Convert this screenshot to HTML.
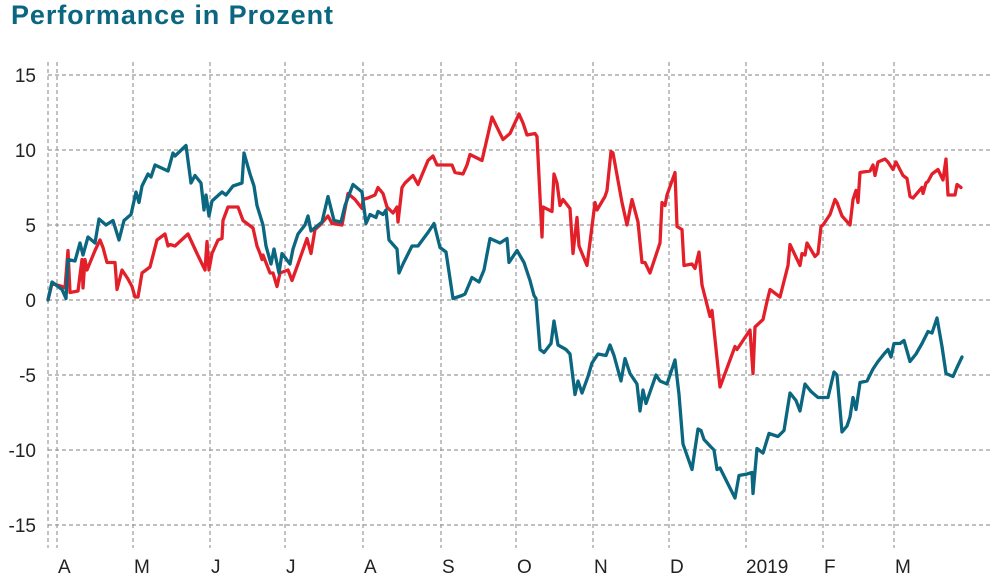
<!DOCTYPE html>
<html><head><meta charset="utf-8">
<style>
html,body{margin:0;padding:0;background:#fff;}
body{width:1000px;height:580px;overflow:hidden;font-family:"Liberation Sans",sans-serif;}
#title{position:absolute;left:11px;top:0px;font-size:27px;font-weight:bold;color:#0b6680;letter-spacing:0.9px;}
svg{position:absolute;left:0;top:0;}
</style></head>
<body>
<div id="title">Performance in Prozent</div>
<svg id="chart" width="1000" height="580"></svg>
<script>
const yTicks=[15,10,5,0,-5,-10,-15];
const monthLabels=["A","M","J","J","A","S","O","N","D","2019","F","M"];
const monthStartDays=[1.8,17,32.4,47.4,63,78.6,93.6,109,124.2,139.6,155,169.2];
const tealDays=[0,0.8,2,2.8,3.6,4,5.4,6.4,7,8,9.4,10.2,11.6,13,14.2,15.2,16.6,17.6,18.2,18.8,20,20.6,21.4,24,25,25.4,27.6,28.6,29.4,30.6,31.2,31.6,32.2,32.8,34.8,35.6,37,38.8,39.2,40.4,41.2,41.8,43,43.6,44.6,45.2,46.2,46.8,48.4,49,50,51.4,52,52.6,54.8,56,57.2,58.6,59.4,61,62.8,63.6,64.4,65.6,66,67,67.6,68.2,69.8,70.2,71,72.8,74,76,77.2,78.4,79.6,81,82.8,83.4,84.8,86.2,87.2,88.4,90.4,91.8,92.2,93.8,95.2,96.4,97.2,97.6,98.4,99.2,100.6,101.2,102,103.6,104.4,105.4,106,106.8,108,108.8,110,111.6,112.4,113.2,114.6,115.4,116.4,117.8,118.4,119,119.6,121.6,122.4,123.8,124.4,125.4,126.2,127,128.8,130,130.6,131.2,132.6,133.2,133.8,134.4,137.4,138.2,139.8,140.8,141,141.8,143,144.2,146,147.2,148.4,149.6,150.4,151.4,152.6,154,156,157.2,157.8,158.8,159.8,160.4,161,161.6,162.4,163.8,165,166,167.2,168,168.6,169.2,170.4,171.2,172.4,173.6,174.8,176,176.8,177.8,178.8,179.6,181,181.8,182.8];
const tealValues=[0,1.2,0.9,0.7,0.1,2.7,2.6,3.8,3.0,4.2,3.8,5.4,5.0,5.3,4.0,5.3,5.7,7.2,6.5,7.6,8.4,8.2,9.0,8.6,9.8,9.6,10.3,7.8,8.3,7.8,6.0,7.0,5.6,6.6,7.2,7.0,7.6,7.8,9.8,8.4,7.6,6.3,5.0,3.6,2.4,3.4,1.8,3.1,2.4,3.4,4.4,5.0,5.6,4.6,5.2,6.9,5.3,5.2,6.3,7.7,7.2,5.1,5.7,5.5,5.9,5.7,6.0,4.0,3.4,1.8,2.4,3.6,3.6,4.5,5.1,3.5,3.2,0.1,0.3,0.4,1.5,1.2,2.0,4.1,3.8,4.1,2.5,3.3,2.5,1.3,0.3,0.1,-3.3,-3.5,-2.9,-1.4,-3.0,-3.3,-3.6,-6.3,-5.4,-6.2,-5.1,-4.2,-3.6,-3.7,-3.0,-3.7,-5.4,-3.9,-4.9,-5.6,-7.4,-6.0,-6.9,-5.0,-5.4,-5.6,-5.0,-4.0,-6.3,-9.6,-11.3,-8.6,-8.7,-9.3,-9.8,-10.0,-11.3,-11.2,-13.2,-11.7,-11.6,-11.5,-12.9,-9.9,-10.2,-8.9,-9.1,-8.7,-6.2,-6.7,-7.4,-5.6,-6.1,-6.5,-6.5,-4.8,-5.0,-8.8,-8.4,-7.8,-6.5,-7.3,-5.5,-5.4,-4.6,-4.1,-3.6,-3.3,-3.8,-2.9,-2.9,-2.7,-4.1,-3.6,-2.9,-2.1,-2.2,-1.2,-3.1,-4.9,-5.1,-4.5,-3.8];
const redDays=[0,0.8,2.8,3.4,4,4.4,6,6.8,7,7.4,7.8,9.4,10.4,11,11.8,13.4,13.8,14.8,16,16.8,17.4,18,18.8,20.4,21.8,23.4,24,24.4,25.4,28,29.8,31.4,31.8,32.2,32.8,34,34.8,35,36,38,39,41,41.8,42.4,42.8,43,44.4,45,45.8,46.4,48,48.8,50,51.8,52.6,53.4,54.4,56,56.8,58.8,60,61.4,62.8,63,64,65.4,66,67,67.8,69,69.8,70,70.8,71.4,73,74,76,77,77.8,80.8,81.4,83,83.8,84.4,86.8,88.8,91,92.4,94.2,95,95.8,97.4,97.8,98.8,99,100.8,101.2,101.8,102.4,103,104.4,105,105.8,106.2,107.8,108.8,109.4,109.8,111.4,111.8,112.6,113,114.8,115.8,116.8,118,118.8,119.4,120.4,122.4,122.8,123.4,123.8,125.4,125.8,126.8,127.2,128.8,129.4,130.2,130.8,132.4,132.8,134.4,137.4,137.8,140.4,141,141.4,143,143.8,144.4,146.4,148,148.4,150.4,150.8,151.4,151.8,153.4,154,154.6,155,156.4,157.4,157.8,158.8,160.4,161,161.6,162,162.4,164.4,165,165.4,166,167.4,168,169,169.6,171,171.8,172.4,173,174.8,175,175.6,176,176.8,178,179,179.6,180,181.4,181.8,182.6];
const redValues=[0,1.1,0.9,0.8,3.3,0.5,0.6,2.7,0.8,2.7,2.0,3.3,4.0,3.5,2.5,2.5,0.7,2.0,1.4,0.9,0.2,0.2,1.8,2.2,4.0,4.4,3.6,3.7,3.6,4.4,3.1,2.0,3.9,2.0,3.1,4.0,4.1,5.3,6.2,6.2,5.3,4.8,3.6,3.1,2.7,3.0,1.8,1.8,0.9,1.8,2.0,1.3,2.4,4.1,3.1,4.7,5.0,5.6,5.1,5.0,7.1,6.7,6.1,6.7,6.8,7.0,7.5,7.1,6.2,5.8,6.2,5.2,7.5,7.8,8.3,7.7,9.3,9.6,9.0,9.0,8.5,8.4,9.0,9.7,9.3,12.2,10.7,11.1,12.4,11.8,11.0,11.1,10.9,4.2,6.2,5.9,8.4,7.8,6.3,6.7,6.1,3.1,5.5,3.6,2.3,4.9,6.5,6.0,6.9,7.3,9.9,9.8,6.5,5.0,6.7,5.2,2.5,2.5,1.8,3.8,6.5,6.3,7.0,8.5,4.9,4.7,2.3,2.4,2.1,3.2,1.0,-1.1,-0.7,-5.8,-3.1,-3.3,-2.0,-4.9,-1.8,-1.3,-0.1,0.7,0.2,2.3,3.7,2.3,3.1,3.0,3.8,2.9,3.1,4.9,5.0,5.7,6.7,6.5,5.6,5.0,6.7,7.3,6.5,8.5,8.6,9.0,8.3,9.2,9.4,9.2,8.7,9.2,8.3,8.1,6.9,6.8,7.5,7.1,7.8,7.9,8.4,8.7,8.0,9.4,7.0,7.0,7.7,7.5];

const NS='http://www.w3.org/2000/svg';
const svg=document.getElementById('chart');
const X0=48,DAYPX=5,Y0=300,UNIT=15;
function xs(d){return X0+d*DAYPX;}
function ys(v){return Y0-v*UNIT;}
function mk(tag,attrs,parent){const e=document.createElementNS(NS,tag);for(const k in attrs)e.setAttribute(k,attrs[k]);(parent||svg).appendChild(e);return e;}

const grid=mk('g',{});


const axl=mk('line',{x1:X0,x2:X0,y1:62,y2:548,stroke:'#9a9a9a','stroke-width':1.2,'stroke-dasharray':'4 3'},grid);


yTicks.forEach(t=>{
  const l=mk('line',{x1:X0,x2:990,y1:ys(t),y2:ys(t),stroke:'#9a9a9a','stroke-width':1.2,'stroke-dasharray':'4 3'},grid);
  
  
  const tx=mk('text',{x:36,y:ys(t)+7,'text-anchor':'end','font-size':19,fill:'#222','font-family':'Liberation Sans, sans-serif'});
  tx.textContent=t;
  
  
});
monthStartDays.forEach((d,i)=>{
  const l=mk('line',{x1:xs(d),x2:xs(d),y1:62,y2:548,stroke:'#9a9a9a','stroke-width':1.2,'stroke-dasharray':'4 3'},grid);
  
  
  const tx=mk('text',{x:xs(d)+(i===9?0:1),y:573,'text-anchor':'start','font-size':19,fill:'#222','font-family':'Liberation Sans, sans-serif'});
  tx.textContent=monthLabels[i];
  
  
});
function line(days,vals,color,name){
  let d='';
  days.forEach((dd,i)=>{d+=(i?'L':'M')+xs(dd).toFixed(1)+','+ys(vals[i]).toFixed(1);});
  const p=mk('path',{d:d,fill:'none',stroke:color,'stroke-width':3.3,'stroke-linejoin':'round','stroke-linecap':'round'});
  
  
}
line(redDays,redValues,'#e3202a','red-series-line');
line(tealDays,tealValues,'#0b6680','teal-series-line');
</script>
</body></html>
